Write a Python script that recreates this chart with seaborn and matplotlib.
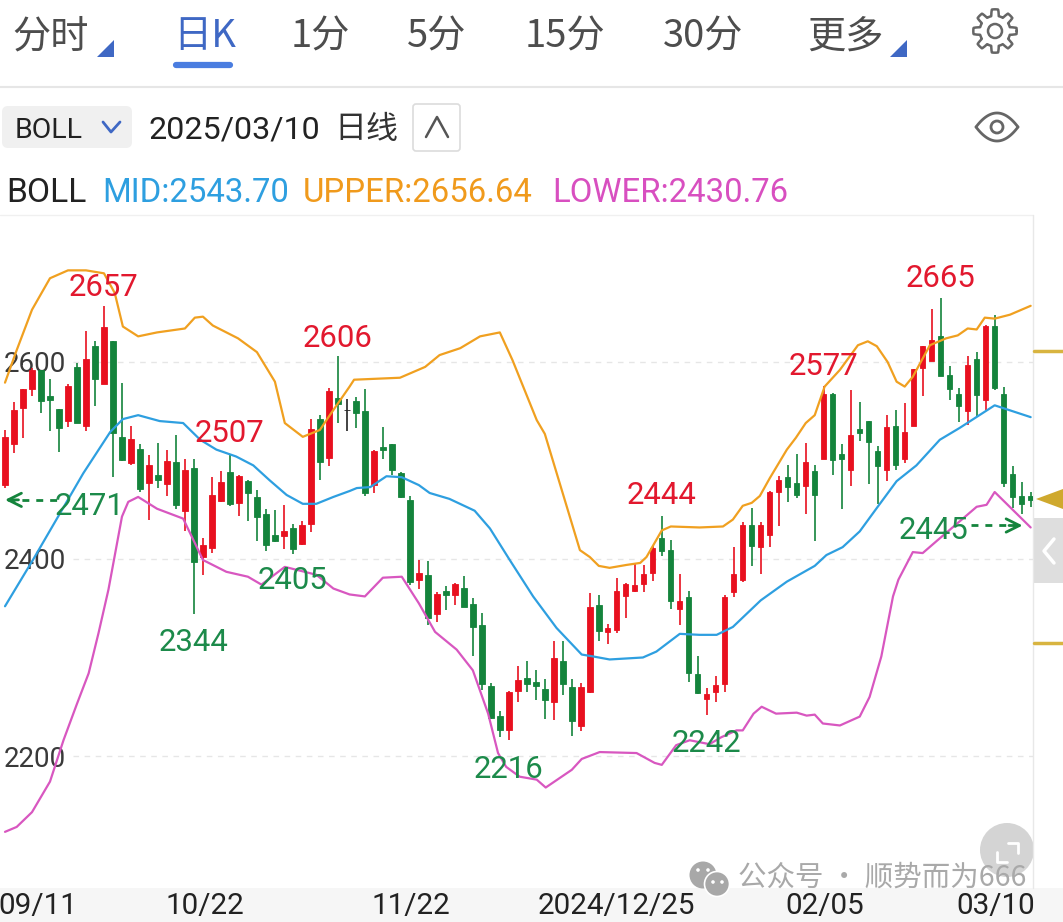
import matplotlib
matplotlib.use("Agg")
import matplotlib.pyplot as plt
from matplotlib.patches import Circle, Polygon, Rectangle, FancyBboxPatch
import seaborn as sns
import numpy as np

# ohlc per day
candle_open = [2475,2517,2553,2573,2592,2565,2552,2540,2595,2535,2616,2578,2621,2524,2497,2512,2477,2485,2476,2498,
	2449,2492,2402,2411,2459,2488,2457,2479,2463,2446,2424,2423,2431,2415,2436,2542,2503,2563,2551,2560,
	2550,2475,2514,2517,2487,2460,2379,2384,2344,2368,2363,2371,2354,2333,2271,2241,2226,2266,2279,2275,
	2268,2255,2296,2270,2230,2265,2353,2326,2328,2362,2368,2375,2386,2421,2409,2349,2361,2283,2258,2265,
	2273,2366,2379,2435,2412,2424,2468,2483,2477,2474,2489,2501,2567,2507,2490,2532,2540,2510,2490,2535,
	2501,2535,2594,2601,2626,2587,2567,2550,2603,2561,2637,2567,2486,2464,2464]
candle_close = [2524,2551,2573,2592,2560,2561,2533,2576,2538,2603,2583,2635,2528,2500,2522,2471,2495,2480,2499,2455,
	2490,2397,2414,2465,2478,2456,2484,2467,2443,2414,2418,2428,2410,2434,2532,2498,2571,2557,2551,2548,
	2467,2510,2511,2490,2463,2377,2386,2340,2364,2363,2375,2351,2331,2273,2239,2226,2265,2277,2273,2271,
	2257,2299,2273,2236,2270,2351,2327,2330,2367,2375,2374,2385,2411,2408,2357,2357,2284,2264,2263,2272,
	2361,2385,2435,2413,2435,2468,2480,2473,2465,2498,2465,2567,2500,2501,2526,2528,2519,2494,2534,2495,
	2529,2593,2616,2622,2586,2573,2555,2597,2566,2637,2574,2477,2463,2456,2460]
candle_high = [2531,2559,2573,2594,2592,2583,2552,2578,2599,2631,2621,2657,2621,2579,2535,2517,2506,2518,2511,2526,
	2501,2501,2421,2483,2489,2507,2485,2480,2470,2451,2450,2455,2436,2439,2542,2546,2574,2606,2562,2564,
	2573,2511,2534,2517,2488,2464,2399,2398,2366,2373,2376,2383,2360,2345,2274,2246,2266,2291,2296,2287,
	2278,2317,2317,2278,2274,2365,2363,2334,2381,2376,2396,2394,2413,2444,2419,2385,2368,2302,2269,2281,
	2363,2412,2438,2452,2438,2469,2484,2495,2507,2518,2495,2576,2568,2517,2572,2559,2540,2515,2546,2551,
	2558,2593,2616,2654,2665,2596,2574,2606,2610,2638,2648,2575,2494,2478,2468]
candle_low = [2472,2508,2523,2565,2548,2530,2509,2534,2538,2530,2555,2578,2483,2499,2495,2468,2440,2472,2464,2451,
	2428,2344,2384,2406,2458,2454,2444,2439,2418,2408,2417,2410,2405,2414,2427,2480,2494,2538,2530,2533,
	2464,2467,2501,2485,2462,2374,2370,2333,2336,2348,2353,2351,2302,2267,2238,2219,2216,2255,2265,2257,
	2238,2237,2262,2220,2225,2264,2317,2314,2325,2340,2366,2366,2378,2403,2349,2333,2275,2263,2242,2255,
	2265,2361,2377,2393,2385,2412,2433,2458,2462,2446,2418,2501,2485,2451,2474,2520,2476,2456,2479,2490,
	2497,2535,2565,2601,2586,2561,2539,2536,2544,2551,2572,2473,2452,2446,2453]

upper_day = [0,1.3,3,5,7,9,11,12.2,13.1,14.8,16.9,20,21.1,22,23.1,25.9,28,30,31.1,33.1,35,36.1,38.3,38.8,43.9,46.7,48.3,50.6,52.8,55,
	56.4,59.1,60,63.9,65,66,67.2,69.1,70.6,71.3,73,74,77.2,79.8,80.9,82,83,83.9,85,86.9,87.9,89,90,91.1,92.8,94.8,95.9,96.9,98.1,99.1,
	100,100.9,102.8,104.6,105.9,107,108,108.9,110,111.7,114]
upper_band = [2579,2612,2653,2685,2693,2693,2690,2670,2636,2626,2630,2634,2645,2646,2637,2624,2610,2580,2538,2524,2531,2546,2575,2582,2584,2595,2607,2614,2626,2630,
	2602,2541,2527,2409,2402,2393,2391,2394,2396,2402,2429,2433,2432,2433,2440,2454,2457,2464,2482,2511,2523,2538,2546,2575,2592,2617,2621,2616,2600,2580,
	2575,2585,2617,2624,2627,2634,2633,2645,2644,2648,2657]
mid_day = [0,3.1,5.9,8.7,11.7,13.1,14.8,17.2,19.8,21.7,23.5,25.7,27.6,29.4,31.3,33.1,34.6,36.5,38.3,39.1,40.6,42.4,44.1,46,47.2,49.4,52.2,53.9,56.1,58.7,61.3,64.1,65.4,67.2,70.9,72.4,75,
	77.2,79.1,80.9,84,86.9,90,91.3,93.1,95,97,99.1,101.3,103.9,106.1,110,114]
mid_band = [2352,2399,2443,2487,2529,2542,2546,2540,2538,2521,2511,2504,2495,2480,2465,2456,2456,2463,2469,2472,2473,2484,2483,2475,2467,2461,2449,2431,2399,2362,2330,2303,2301,2298,2300,2306,2324,
	2323,2323,2331,2358,2377,2393,2404,2412,2428,2453,2479,2495,2521,2533,2556,2544]
lower_day = [0,1.3,3,5,6.5,8,9.3,10.4,11.5,13,13.7,14.8,16.9,19.8,22,24.6,27,28.5,31.1,34.6,36.5,38.3,40,42,44.1,46,47.8,50.2,52,53.7,
	54.8,55.7,57.2,59.1,60.1,63,64.1,66.1,70.2,72.2,73,74.6,76.1,78.3,79.6,81.3,82,83.2,84.1,85.7,88,89.1,90,90.9,92.8,95,96.1,
	97.4,98.7,99.3,100.9,102,103.9,105.7,108,109.1,110,114]
lower_band = [2123,2128,2143,2174,2216,2253,2284,2325,2369,2443,2458,2463,2451,2441,2399,2387,2382,2374,2392,2384,2370,2364,2362,2381,2382,2355,2326,2308,2287,2243,
	2203,2189,2179,2176,2168,2186,2197,2204,2203,2193,2191,2211,2216,2212,2219,2226,2226,2243,2250,2243,2244,2241,2242,2233,2231,2240,2260,
	2301,2362,2379,2407,2406,2421,2435,2453,2455,2468,2432]

high_low_price = [2657,2606,2507,2577,2665,2444,2471,2445,2405,2344,2216,2242]
high_low_day = [11,37,25,91,104,73,0,114,32,21,56,78]
high_low_up = [True,True,True,True,True,True,False,False,False,False,False,False]

date_labels = ["09/11","10/22","11/22","2024/12/25","02/05","03/10"]
date_pos = [3.7,22.2,45.1,68,91.1,110.1]
price_ticks = [2200,2400,2600]
tab_names = ["分时","日K","1分","5分","15分","30分","更多"]
boll_names = ["MID:2543.70","UPPER:2656.64","LOWER:2430.76"]

RED = "#e8101f"
GREEN = "#14843c"
CJK = ["Noto Sans CJK SC","DejaVu Sans"]
LATIN = ["Roboto","DejaVu Sans"]

def draw_ui(ui):
	# tabs
	tab_x = [12,173,291,407,525,663,807]
	for i in range(len(tab_names)):
		col = "#3f68c4" if i == 1 else "#4d4d4d"
		ui.text(tab_x[i], 37, tab_names[i], family=CJK, fontsize=27.5, color=col, va="center", ha="left")
	ui.plot([176,230],[65,65], color="#4a7de0", lw=4.5, solid_capstyle="round")
	for tx in [97,890]:
		ui.add_patch(Polygon([(tx,57),(tx+17,57),(tx+17,40)], color="#3f68c4", lw=0))
	ui.plot([0,1063],[87,87], color="#e6e6e6", lw=1.5)

	# gear
	t = np.linspace(0, 2*np.pi, 400)
	r = 18.5+3.2*np.clip(2.5*np.cos(8*t), -1, 1)
	ui.plot(995+r*np.cos(t), 31+r*np.sin(t), color="#666666", lw=1.8)
	ui.add_patch(Circle((995,31), 7, fill=False, ec="#666666", lw=1.8))

	# indicator row
	ui.add_patch(FancyBboxPatch((6,110), 122, 34, boxstyle="round,pad=4,rounding_size=6", fc="#f0f0f0", ec="none"))
	ui.text(15, 131, "BOLL", family=LATIN, fontsize=20.5, color="#222222", va="center")
	ui.plot([103,111,120],[122,132,122], color="#3f68c4", lw=2)
	ui.text(148, 130, "2025/03/10", family=LATIN, fontsize=23.2, color="#222222", va="center")
	ui.text(334, 129, "日线", family=CJK, fontsize=23, color="#333333", va="center")
	ui.add_patch(FancyBboxPatch((414,105), 45, 45, boxstyle="round,pad=1,rounding_size=3", fc="white", ec="#dcdcdc", lw=1.2))
	ui.plot([426,437,448],[137,117,137], color="#555555", lw=1.8)

	# eye
	s = np.linspace(-1, 1, 60)
	ui.plot(997+21*s, 127-14*(1-s**2), color="#666666", lw=2)
	ui.plot(997+21*s, 127+14*(1-s**2), color="#666666", lw=2)
	ui.add_patch(Circle((997,127), 6, fill=False, ec="#666666", lw=2))

	# boll values
	ui.text(6, 193, "BOLL", family=LATIN, fontsize=24.2, color="#222222", va="center")
	boll_x = [102,303,552]
	boll_col = ["#2e9fe0","#f09a1c","#d84fc0"]
	for i in range(len(boll_names)):
		ui.text(boll_x[i], 193, boll_names[i], family=LATIN, fontsize=23.7, color=boll_col[i], va="center")

	# frame of the chart
	ui.plot([0,1033],[215,215], color="#f0f0f0", lw=1)
	ui.plot([1033,1033],[215,888], color="#e8e8e8", lw=1)
	ui.add_patch(Rectangle((0,888), 1063, 34, fc="#f6f6f6", ec="none"))

	# right hand side
	ui.plot([1034,1063],[351,351], color="#d8b440", lw=2.5)
	ui.plot([1034,1063],[643,643], color="#d8b440", lw=2.5)
	ui.add_patch(Polygon([(1036,499),(1063,489),(1063,509)], color="#cfa92e", lw=0))
	ui.add_patch(Rectangle((1034,518), 29, 65, fc="#dedede", ec="none"))
	ui.plot([1054,1044,1054],[539,551,563], color="white", lw=2.5)

	# expand button
	ui.add_patch(Circle((1007,850), 27, fc="#d4d4d4", ec="none"))
	ui.plot([1008,1018,1018],[843,843,853], color="white", lw=2)
	ui.plot([997,997,1007],[852,862,862], color="white", lw=2)

	# watermark
	ui.add_patch(Circle((703,875), 13.5, fc="#a8a8a8", ec="none"))
	ui.add_patch(Circle((717,884), 12.5, fc="#a8a8a8", ec="white", lw=1.2))
	for ex, ey in [(698,870),(708,870),(713,882),(722,882)]:
		ui.add_patch(Circle((ex,ey), 1.8, fc="white", ec="none"))
	ui.text(738, 878, "公众号 · 顺势而为666", family=CJK, fontsize=20.5, color="#a9a9a9", va="center")

def draw_candles(ax):
	days = np.arange(len(candle_close))
	opens = np.array(candle_open)
	closes = np.array(candle_close)
	cols = [RED if closes[i] > opens[i] else (GREEN if closes[i] < opens[i] else "#222222") for i in days]
	ax.vlines(days, candle_low, candle_high, colors=cols, lw=1.2, zorder=2)
	ax.bar(days, np.abs(closes-opens), bottom=np.minimum(opens, closes), width=0.6, color=cols, edgecolor=cols, linewidth=0.6, zorder=2)

def draw_labels(ax):
	offset_x = {2471:85, 2445:-97}
	offset_y = {2471:-17, 2445:-16, 2344:-28, 2216:-29, 2242:-29, 2405:-26, 2507:20, 2444:20, 2665:19}
	for i in range(len(high_low_price)):
		price = high_low_price[i]
		dy = offset_y.get(price, 18)
		ax.annotate(str(price), xy=(high_low_day[i], price), xytext=(offset_x.get(price, 0), dy),
			textcoords="offset pixels", ha="center", va="center", family=LATIN, fontsize=22.4,
			color="#e2182e" if high_low_up[i] else "#1c8a4a", zorder=4, annotation_clip=False)

	# dashed arrows next to the range values
	ax.plot([0.3,5.8],[2460,2460], color=GREEN, lw=2, ls=(0,(2.5,2.5)), zorder=4)
	ax.annotate("", xy=(0,2460), xytext=(1.5,2460), arrowprops=dict(arrowstyle="->", color=GREEN, lw=2, mutation_scale=24, shrinkA=0, shrinkB=0), zorder=4)
	ax.plot([107.4,112.6],[2434,2434], color=GREEN, lw=2, ls=(0,(2.5,2.5)), zorder=4)
	ax.annotate("", xy=(113.1,2434), xytext=(111.6,2434), arrowprops=dict(arrowstyle="->", color=GREEN, lw=2, mutation_scale=24, shrinkA=0, shrinkB=0), zorder=4)

sns.set_theme(style="white")
plt.rcParams["font.family"] = CJK

f = plt.figure(figsize=(10.63,9.22), dpi=100, facecolor="white")
ui = f.add_axes([0,0,1,1], zorder=0)
ui.set_xlim(0,1063)
ui.set_ylim(922,0)
ui.axis("off")
draw_ui(ui)

ax = f.add_axes([0,(922-888)/922,1033/1063,(888-215)/922], zorder=1)
ax.patch.set_visible(False)
ax.set_xlim(-5/8.997,(1033-5)/8.997)
ax.set_ylim(2066,2749.2)
sns.despine(ax=ax, left=True, bottom=True)

ax.hlines(price_ticks, 7.6, 114.3, colors="#e6e6e6", lw=1, ls=(0,(4,4)), zorder=1)
draw_candles(ax)
sns.lineplot(x=upper_day, y=upper_band, color="#f0a020", lw=1.6, ax=ax, zorder=3, errorbar=None)
sns.lineplot(x=mid_day, y=mid_band, color="#2e9fe0", lw=1.6, ax=ax, zorder=3, errorbar=None)
sns.lineplot(x=lower_day, y=lower_band, color="#d857c0", lw=1.6, ax=ax, zorder=3, errorbar=None)
draw_labels(ax)

ax.set_yticks(price_ticks)
ax.set_yticklabels([str(p) for p in price_ticks], family=LATIN, fontsize=20, color="#3a3a3a", ha="left")
ax.tick_params(axis="y", length=0, pad=-3, direction="in")
ax.set_xticks(date_pos)
ax.set_xticklabels(date_labels, family=LATIN, fontsize=21.3, color="#222222")
ax.tick_params(axis="x", length=0, pad=3)
ax.set_xlabel("")
ax.set_ylabel("")
ax.grid(False)

f.savefig("out.png", dpi=100)
plt.close(f)
